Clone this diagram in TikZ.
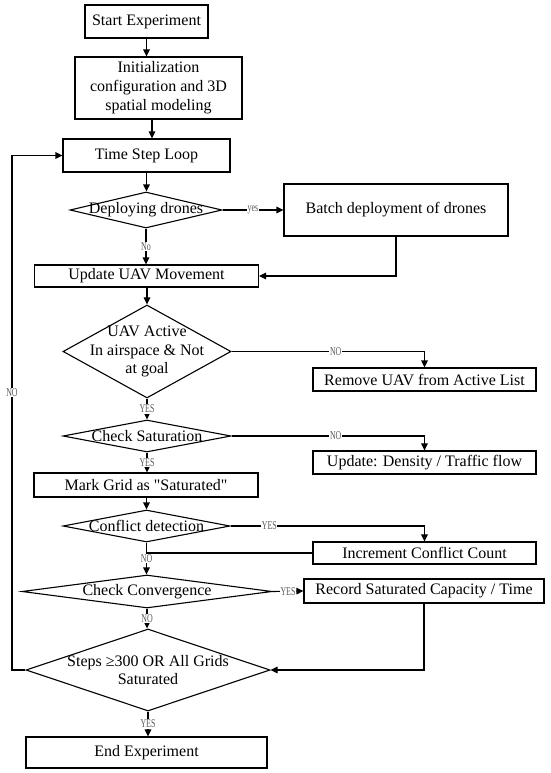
\documentclass[tikz,border=0pt]{standalone}
\usepackage{fontspec}
\setmainfont{Liberation Serif}[Ligatures=TeXOff]
\newfontfamily\lblfont[FakeStretch=0.66]{Liberation Serif}
\usetikzlibrary{shapes.geometric,arrows.meta}
\begin{document}
\begin{tikzpicture}[x=1pt,y=-1pt, line width=1.1pt,
 box/.style={draw, inner sep=0pt, align=center, font=\fontsize{16}{19}\selectfont},
 dia/.style={draw, diamond, inner sep=0pt},
 dtext/.style={align=center, font=\fontsize{16}{18.5}\selectfont, inner sep=0pt},
 arr/.style={-{Triangle[length=7pt,width=6.5pt]}},
 lbl/.style={fill=white, inner sep=0.6pt, text=black!65, font=\lblfont\fontsize{12}{12}\selectfont}]
\useasboundingbox (0,0) rectangle (550,773);

\node[box, minimum width=123pt, minimum height=33pt] (start) at (146.5,21.5) {Start Experiment};
\node[box, minimum width=167pt, minimum height=62pt] (init) at (158.5,88) {Initialization\\configuration and 3D\\spatial modeling};
\node[box, minimum width=167pt, minimum height=33pt] (tsl) at (146.5,155.5) {Time Step Loop};
\node[dia, minimum width=152pt, minimum height=36pt] (d1) at (146,210) {};
\node[dtext] (d1t) at (d1) {Deploying drones};
\node[box, minimum width=224pt, minimum height=52pt] (batch) at (396,210) {Batch deployment of drones};
\node[box, minimum width=224pt, minimum height=22pt] (upd) at (146.5,276) {Update UAV Movement};
\node[dia, minimum width=168pt, minimum height=93pt] (d2) at (147,351.5) {};
\node[dtext] (d2t) at (d2) {UAV Active\\In airspace \& Not\\at goal};
\node[box, minimum width=223pt, minimum height=23pt] (remove) at (424.5,379.5) {Remove UAV from Active List};
\node[dia, minimum width=168pt, minimum height=32pt] (d3) at (147,436) {};
\node[dtext] (d3t) at (d3) {Check Saturation};
\node[box, minimum width=223pt, minimum height=23pt] (dens) at (424.5,462.5) {Update: Density / Traffic flow};
\node[box, minimum width=224pt, minimum height=24pt] (mark) at (146,485) {Mark Grid as "Saturated"};
\node[dia, minimum width=167pt, minimum height=32pt] (d4) at (146.5,526) {};
\node[dtext] (d4t) at (d4) {Conflict detection};
\node[box, minimum width=223pt, minimum height=22pt] (incr) at (424.5,553) {Increment Conflict Count};
\node[dia, minimum width=250pt, minimum height=33pt] (d5) at (147,591.5) {};
\node[dtext] (d5t) at (d5) {Check Convergence};
\node[box, minimum width=240pt, minimum height=24pt] (rec) at (424,591) {Record Saturated Capacity / Time};
\node[dia, minimum width=244pt, minimum height=82pt] (d6) at (148,670) {};
\node[dtext] (d6t) at (d6) {Steps ≥300 OR All Grids\\Saturated};
\node[box, minimum width=241pt, minimum height=31pt] (end) at (146.5,752.5) {End Experiment};
\coordinate (loopx) at (12,0);

\draw[arr] (start.south) -- (start.south |- init.north);
\draw[arr] ([xshift=-6.5pt]init.south) -- ([xshift=-6.5pt]init.south |- tsl.north);
\draw[arr] (tsl.south) -- (tsl.south |- d1.north);
\draw[arr] (d1.east) -- node[lbl]{yes} (batch.west);
\draw[arr] (d1.south) -- node[lbl]{No} (d1.south |- upd.north);
\draw[arr] (batch.south) |- (upd.east);
\draw[arr] (upd.south -| d2.north) -- (d2.north);
\draw[arr] (d2.east) -| node[lbl,pos=0.27]{NO} (remove.north);
\draw[arr] (d2.south) -- node[lbl]{YES} (d3.north);
\draw[arr] (d3.east) -| node[lbl,pos=0.27]{NO} (dens.north);
\draw[arr] (d3.south) -- node[lbl]{YES} (d3.south |- mark.north);
\draw[arr] (mark.south -| d4.north) -- (d4.north);
\draw[arr] (d4.east) -| node[lbl,pos=0.1]{YES} (incr.north);
\draw (incr.west) -- (incr.west -| d4.south);
\draw[arr] (d4.south) -- node[lbl]{NO} (d4.south |- d5.north);
\draw[arr] (d5.east) -- node[lbl]{YES} (rec.west);
\draw[arr] (d5.south) -- node[lbl]{NO} (d5.south |- d6.north);
\draw[arr] (rec.south) |- (d6.east);
\draw[arr] (d6.south) -- node[lbl]{YES} (d6.south |- end.north);
\draw[arr] (d6.west) -- (d6.west -| loopx) -- node[lbl,pos=0.54]{NO} (tsl.west -| loopx) -- (tsl.west);
\end{tikzpicture}
\end{document}
